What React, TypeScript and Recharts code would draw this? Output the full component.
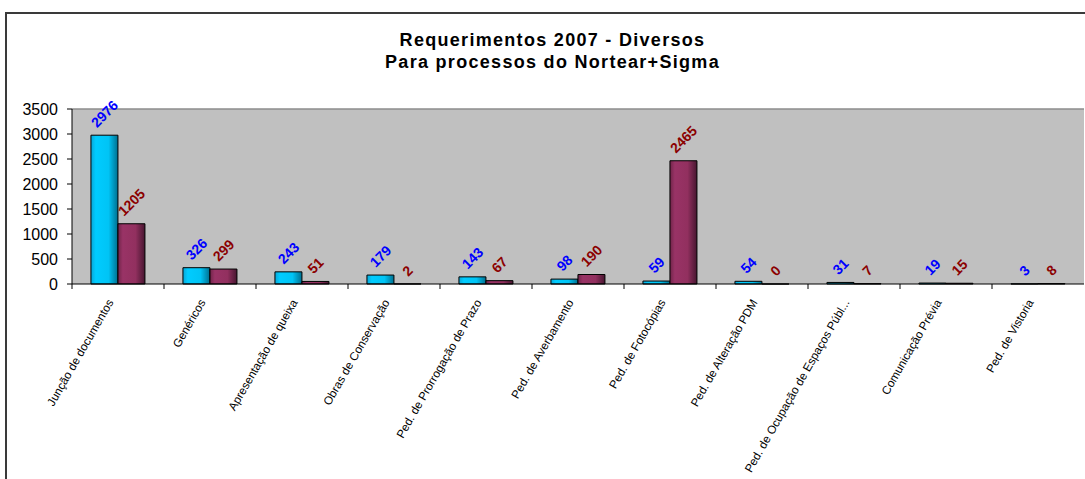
import { Bar, BarChart, CartesianGrid, LabelList, ReferenceLine, XAxis, YAxis } from 'recharts'

const categories = [
  'Junção de documentos',
  'Genéricos',
  'Apresentação de queixa',
  'Obras de Conservação',
  'Ped. de Prorrogação de Prazo',
  'Ped. de Averbamento',
  'Ped. de Fotocópias',
  'Ped. de Alteração PDM',
  'Ped. de Ocupação de Espaços Públ...',
  'Comunicação Prévia',
  'Ped. de Vistoria',
]
const nortear = [2976, 326, 243, 179, 143, 98, 59, 54, 31, 19, 3]
const sigma = [1205, 299, 51, 2, 67, 190, 2465, 0, 7, 15, 8]
const yTicks = [0, 500, 1000, 1500, 2000, 2500, 3000, 3500]

const data = categories.map((name, i) => ({ name, nortear: nortear[i], sigma: sigma[i] }))

const W = 1085
const H = 479
const Y_W = 72
const RIGHT = 1
const HALF_BAND = (W - Y_W - RIGHT) / categories.length / 2
const FONT = 'Arial, "Liberation Sans", sans-serif'

function CategoryTick(props: any) {
  const { x, y, payload } = props
  const ax = x - 8
  const ay = y + 16
  return (
    <g>
      <line x1={x - HALF_BAND} x2={x - HALF_BAND} y1={y} y2={y + 5} stroke="#000" />
      <text
        x={ax}
        y={ay}
        textAnchor="end"
        dominantBaseline="central"
        transform={`rotate(-60, ${ax}, ${ay})`}
        fontSize={11.7}
        fontFamily={FONT}
        fill="#000"
      >
        {payload.value}
      </text>
    </g>
  )
}

function valueLabel(color: string) {
  return (props: any) => {
    const { x, y, width, value } = props
    const cx = Number(x) + Number(width) / 2
    const len = String(value).length * 7.8
    const halfH = (len + 10) * 0.3535
    const cy = Number(y) - 7 - halfH
    return (
      <text
        x={cx}
        y={cy}
        textAnchor="middle"
        dominantBaseline="central"
        transform={`rotate(-45, ${cx}, ${cy})`}
        fontSize={14}
        fontWeight="bold"
        fontFamily={FONT}
        fill={color}
      >
        {value}
      </text>
    )
  }
}

export default function App() {
  return (
    <div style={{ position: 'absolute', left: 0, top: 0, width: W, height: H, overflow: 'hidden', background: '#fff' }}>
      <div
        style={{
          position: 'absolute',
          left: 5,
          top: 12,
          width: W + 20,
          height: H + 20,
          border: '2px solid #3a3a3a',
        }}
      />
      <div
        style={{
          position: 'absolute',
          left: 0,
          top: 29,
          width: W + 20,
          textAlign: 'center',
          fontFamily: FONT,
          fontWeight: 'bold',
          fontSize: 18,
          lineHeight: '22px',
          letterSpacing: 1.3,
          color: '#000',
        }}
      >
        <div>Requerimentos 2007 - Diversos</div>
        <div>Para processos do Nortear+Sigma</div>
      </div>
      <div style={{ position: 'absolute', left: 0, top: 0 }}>
        <BarChart
          width={W}
          height={H}
          data={data}
          margin={{ top: 109, right: RIGHT, bottom: 0, left: 0 }}
          barCategoryGap="20.6%"
          barGap={0}
        >
          <defs>
            <linearGradient id="cyanFill" x1="0" y1="0" x2="1" y2="0">
              <stop offset="0%" stopColor="#0aa6d6" />
              <stop offset="18%" stopColor="#00ccff" />
              <stop offset="65%" stopColor="#00c4f5" />
              <stop offset="100%" stopColor="#006f8f" />
            </linearGradient>
            <linearGradient id="plumFill" x1="0" y1="0" x2="1" y2="0">
              <stop offset="0%" stopColor="#702549" />
              <stop offset="18%" stopColor="#993366" />
              <stop offset="65%" stopColor="#92305f" />
              <stop offset="100%" stopColor="#471630" />
            </linearGradient>
          </defs>
          <CartesianGrid fill="#c0c0c0" horizontal={false} vertical={false} />
          <ReferenceLine y={3500} stroke="#8c8c8c" strokeWidth={1.5} />
          <XAxis
            dataKey="name"
            height={H - 284}
            interval={0}
            tickLine={false}
            tickSize={0}
            tickMargin={0}
            axisLine={{ stroke: '#000' }}
            tick={<CategoryTick />}
          />
          <YAxis
            width={Y_W}
            domain={[0, 3500]}
            ticks={yTicks}
            interval={0}
            tickSize={5}
            tickMargin={9}
            axisLine={{ stroke: '#000' }}
            tickLine={{ stroke: '#000' }}
            tick={{ fill: '#000', fontSize: 16, fontFamily: FONT }}
          />
          <Bar dataKey="nortear" fill="url(#cyanFill)" stroke="#000" strokeWidth={1} minPointSize={0.01} isAnimationActive={false}>
            <LabelList dataKey="nortear" content={valueLabel('#0000ff')} />
          </Bar>
          <Bar dataKey="sigma" fill="url(#plumFill)" stroke="#000" strokeWidth={1} minPointSize={0.01} isAnimationActive={false}>
            <LabelList dataKey="sigma" content={valueLabel('#8b0000')} />
          </Bar>
        </BarChart>
      </div>
    </div>
  )
}
